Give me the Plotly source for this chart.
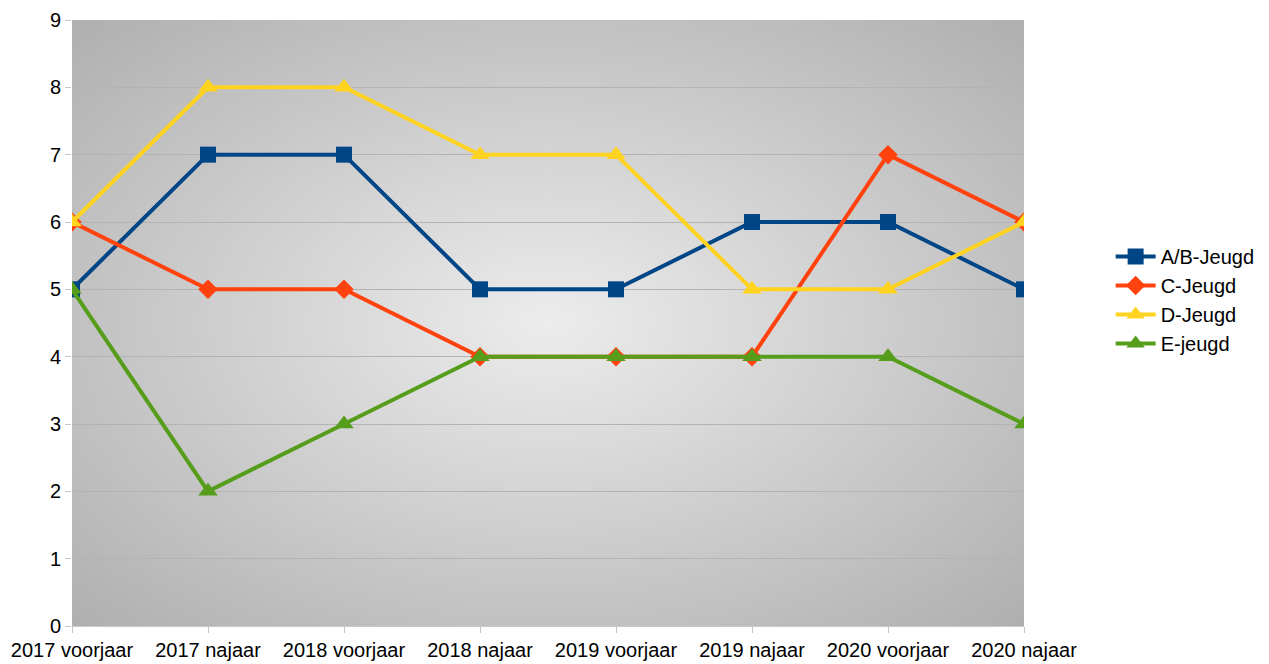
import base64, zlib, struct
import numpy as np
import plotly.graph_objects as go

categories = ["2017 voorjaar", "2017 najaar", "2018 voorjaar", "2018 najaar",
              "2019 voorjaar", "2019 najaar", "2020 voorjaar", "2020 najaar"]
ab_jeugd = [5, 7, 7, 5, 5, 6, 6, 5]
c_jeugd = [6, 5, 5, 4, 4, 4, 7, 6]
d_jeugd = [6, 8, 8, 7, 7, 5, 5, 6]
e_jeugd = [5, 2, 3, 4, 4, 4, 4, 3]
y_ticks = list(range(0, 10))


def gradient_png(w=240, h=152, inner=237, outer=176):
    u = np.linspace(-1, 1, w)[None, :]
    v = np.linspace(-1, 1, h)[:, None]
    d = np.sqrt(u ** 2 + v ** 2) / np.sqrt(2)
    c = (inner - (inner - outer) * d).clip(0, 255).astype(np.uint8)
    rgb = np.stack([c, c, c], axis=-1)
    raw = b"".join(b"\x00" + rgb[i].tobytes() for i in range(h))

    def chunk(t, data):
        return (struct.pack(">I", len(data)) + t + data +
                struct.pack(">I", zlib.crc32(t + data) & 0xffffffff))

    png = (b"\x89PNG\r\n\x1a\n" +
           chunk(b"IHDR", struct.pack(">IIBBBBB", w, h, 8, 2, 0, 0, 0)) +
           chunk(b"IDAT", zlib.compress(raw, 9)) +
           chunk(b"IEND", b""))
    return "data:image/png;base64," + base64.b64encode(png).decode()


series = [
    ("A/B-Jeugd", ab_jeugd, "#004586", "square", 16),
    ("C-Jeugd", c_jeugd, "#ff420e", "diamond", 15),
    ("D-Jeugd", d_jeugd, "#ffd320", "triangle-up", 17),
    ("E-jeugd", e_jeugd, "#579d1c", "triangle-up", 17),
]

fig = go.Figure()
for name, vals, color, sym, size in series:
    fig.add_trace(go.Scatter(
        x=list(range(len(categories))), y=vals, name=name, mode="lines+markers",
        line=dict(color=color, width=4),
        marker=dict(symbol=sym, size=size, color=color),
    ))

font = dict(family="Liberation Sans, Arial, sans-serif", size=20, color="#000000")
fig.update_layout(
    width=1269, height=664,
    margin=dict(l=72, r=245, t=20, b=38, autoexpand=False),
    paper_bgcolor="white",
    plot_bgcolor="rgba(0,0,0,0)",
    font=font,
    showlegend=True,
    legend=dict(x=1.091, xanchor="left", y=0.538, yanchor="middle",
                font=font, tracegroupgap=0, itemwidth=40,
                bgcolor="rgba(0,0,0,0)"),
    images=[dict(source=gradient_png(), xref="paper", yref="paper",
                 x=0, y=1, sizex=1, sizey=1, sizing="stretch",
                 xanchor="left", yanchor="top", layer="below")],
)
fig.update_xaxes(
    range=[0, len(categories) - 1], tickmode="array",
    tickvals=list(range(len(categories))), ticktext=categories,
    showgrid=False, zeroline=False, showline=True, linecolor="#c8c8c8",
    ticks="outside", ticklen=6, tickcolor="#c8c8c8", tickfont=font,
    automargin=False,
)
fig.update_yaxes(
    range=[0, 9], tickmode="array", tickvals=y_ticks,
    showgrid=True, gridcolor="#b3b3b3", gridwidth=1, zeroline=False,
    showline=False, ticks="outside", ticklen=6, tickcolor="#c8c8c8",
    tickfont=font, automargin=False,
)
fig.write_html("out.html", config={"displayModeBar": False},
               post_script="document.body.style.margin='0';"
                           "document.body.style.overflow='hidden';")
